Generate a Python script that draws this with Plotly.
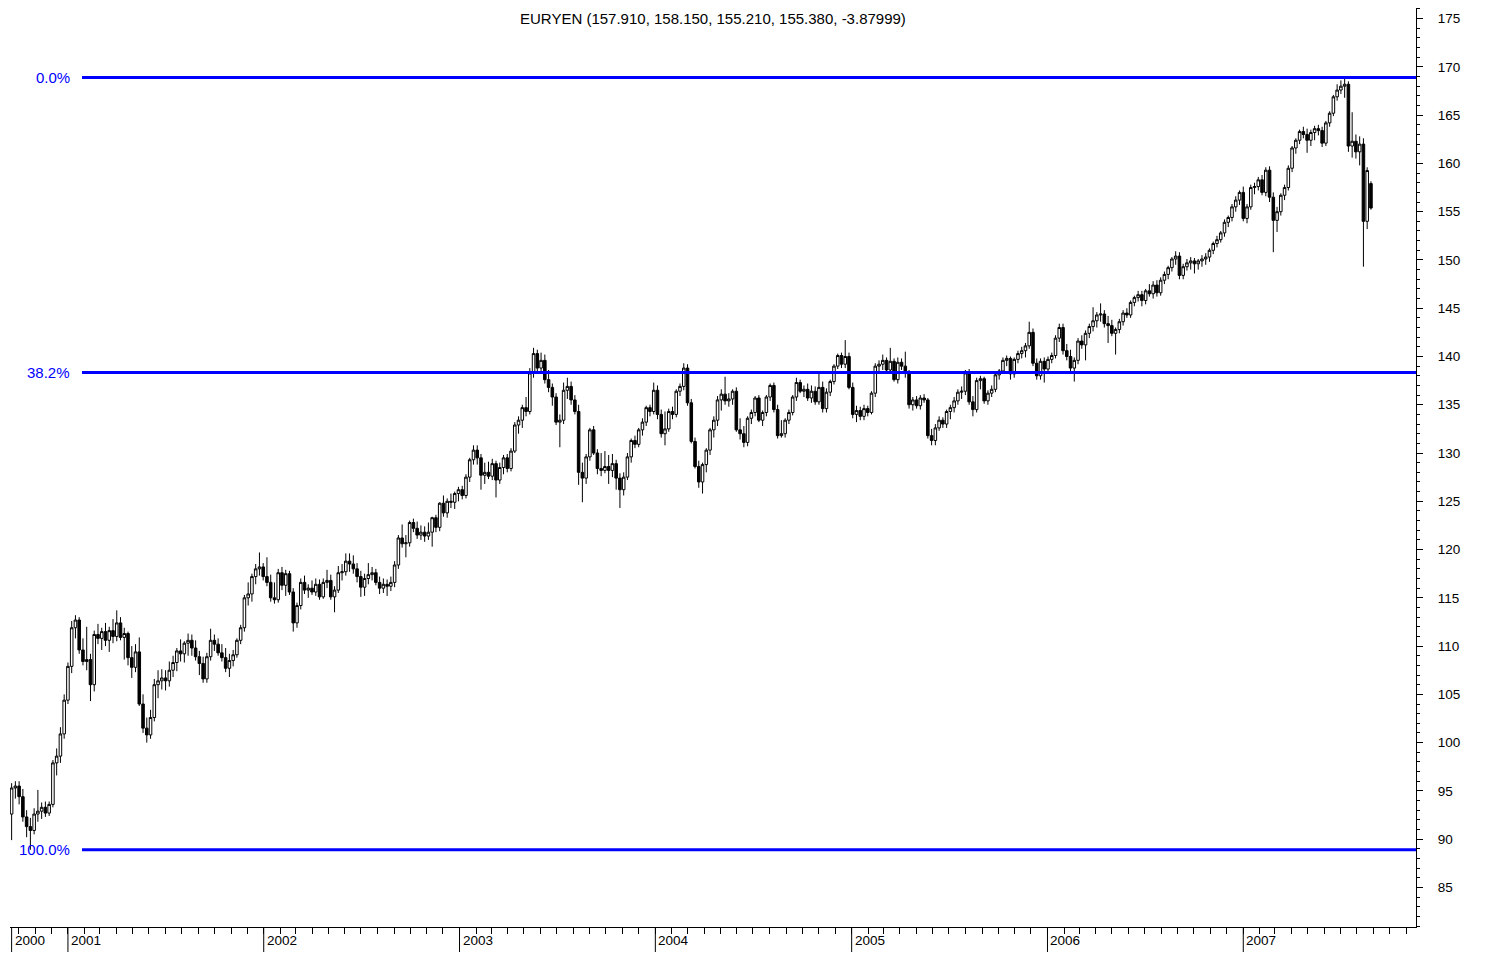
import pandas as pd
import plotly.graph_objects as go

# weekly EURYEN candles, one per Monday starting 2000-09-18
first_week = "2000-09-18"

opens = [
    # 2000
    92.6, 95.3, 95.5, 94.4, 92.3, 91.3, 90.9, 92.6, 92.9, 93.3, 92.7, 93.6, 97.9, 98.6, 100.9,
    # 2001
    104.4, 107.9, 111.9, 112.7, 109.6, 108.4, 108.6, 106.0, 111.2, 110.8, 111.5, 110.6, 111.6,
    111.0, 112.4, 110.9, 111.3, 108.8, 107.8, 109.4, 104.0, 101.5, 100.8, 102.6, 106.0, 106.4,
    106.7, 106.4, 107.5, 108.3, 109.5, 109.2, 110.3, 110.6, 109.8, 108.9, 108.2, 106.6, 108.9,
    110.6, 110.2, 109.3, 108.8, 107.7, 108.5, 109.1, 110.6, 111.9, 115.0, 115.4, 117.2, 118.0,
    # 2002
    118.2, 117.2, 116.6, 115.0, 114.8, 117.6, 116.3, 117.5, 115.6, 112.4, 114.2, 116.6, 115.8,
    116.0, 115.6, 116.4, 115.1, 116.6, 116.8, 115.1, 115.8, 117.6, 117.7, 118.8, 118.5, 118.0,
    117.2, 116.1, 117.0, 117.4, 117.6, 116.6, 116.0, 116.4, 116.2, 116.6, 118.4, 121.2, 120.6,
    120.7, 122.8, 122.2, 121.5, 121.8, 121.4, 121.8, 123.3, 122.3, 124.8, 123.8, 125.0, 124.9,
    # 2003
    125.8, 126.2, 125.6, 127.5, 129.3, 130.3, 129.5, 127.7, 128.0, 127.6, 128.9, 127.2, 128.5,
    129.5, 128.4, 130.2, 132.9, 133.4, 134.7, 134.3, 138.3, 140.3, 138.8, 139.6, 137.6, 136.8,
    135.8, 133.2, 133.4, 136.5, 136.9, 135.5, 134.3, 128.0, 127.4, 129.6, 132.4, 130.0, 128.4,
    128.2, 128.6, 128.2, 128.9, 127.4, 126.2, 127.5, 129.6, 131.3, 130.9, 132.4, 133.2, 134.7,
    # 2004
    134.3, 136.5, 134.0, 132.0, 132.5, 134.3, 134.0, 136.4, 136.9, 138.8, 135.2, 131.2, 128.6,
    127.0, 128.8, 130.3, 132.4, 133.4, 135.5, 136.1, 135.4, 135.6, 136.4, 132.4, 132.0, 131.1,
    133.6, 134.2, 135.7, 133.4, 134.2, 135.8, 137.0, 134.5, 131.8, 132.0, 133.4, 134.2, 135.8,
    137.3, 136.4, 136.6, 135.7, 136.4, 135.3, 136.8, 134.6, 136.3, 137.4, 139.0, 140.1, 139.2,
    # 2005
    140.0, 136.8, 134.0, 134.4, 133.8, 134.6, 134.2, 136.2, 139.0, 139.2, 139.6, 138.6, 139.5,
    137.6, 139.4, 139.0, 138.3, 135.0, 135.5, 134.9, 135.7, 135.5, 131.8, 131.3, 132.6, 133.4,
    133.0, 134.3, 134.7, 135.4, 136.3, 136.4, 138.3, 135.3, 134.5, 137.5, 137.7, 135.4, 136.2,
    136.6, 138.1, 138.5, 139.6, 139.8, 138.2, 139.7, 140.3, 140.6, 141.1, 142.5, 139.3, 138.0,
    # 2006
    139.5, 138.7, 139.7, 140.1, 141.9, 143.0, 140.6, 140.0, 138.8, 139.6, 141.6, 141.2, 142.4,
    143.1, 143.7, 144.3, 144.4, 143.4, 143.2, 142.4, 142.8, 143.6, 144.5, 144.3, 145.6, 146.1,
    146.4, 145.8, 146.8, 146.5, 147.4, 146.6, 147.9, 148.5, 149.2, 150.1, 150.4, 148.4, 149.3,
    149.7, 149.9, 149.6, 149.9, 150.1, 150.3, 151.0, 151.7, 152.1, 152.8, 153.9, 154.4, 155.5,
    # 2007
    156.2, 157.0, 154.3, 155.5, 157.5, 157.6, 158.3, 157.0, 159.3, 156.5, 154.1, 155.0, 156.7,
    157.5, 159.5, 161.6, 162.4, 163.3, 163.0, 162.4, 163.2, 163.6, 163.4, 162.1, 164.2, 165.2,
    166.9, 167.6, 168.0, 168.2, 161.8, 162.3, 161.2, 162.0, 154.0, 157.91,
]

highs = [
    # 2000
    95.8, 96.0, 96.0, 95.2, 93.0, 92.2, 93.2, 95.1, 93.8, 93.9, 93.9, 98.2, 99.4, 101.6, 105.0,
    # 2001
    108.3, 112.6, 113.2, 113.0, 110.8, 112.0, 109.2, 111.6, 112.3, 111.9, 112.4, 112.0, 112.8,
    113.7, 113.0, 111.9, 111.5, 110.0, 110.2, 110.9, 105.0, 102.6, 103.4, 106.6, 107.5, 107.6,
    107.5, 108.4, 109.0, 109.8, 110.7, 110.5, 111.3, 111.2, 110.6, 109.5, 108.9, 109.3, 111.8,
    111.2, 110.8, 110.2, 109.8, 109.2, 109.6, 110.8, 112.2, 115.3, 116.6, 117.5, 118.5, 119.7,
    # 2002
    118.6, 119.2, 117.4, 116.6, 118.0, 118.2, 117.9, 117.8, 116.0, 114.5, 117.0, 117.3, 116.4,
    116.8, 117.0, 116.9, 117.0, 117.9, 117.4, 116.2, 118.3, 118.5, 119.6, 119.6, 119.4, 118.6,
    117.8, 117.5, 118.6, 118.2, 118.0, 117.2, 117.0, 116.9, 117.2, 118.8, 121.5, 122.6, 121.5,
    123.0, 123.2, 122.9, 122.5, 122.4, 122.8, 123.4, 123.6, 124.9, 125.6, 125.3, 125.8, 126.0,
    # 2003
    126.5, 126.6, 127.8, 129.5, 130.8, 130.8, 129.9, 129.0, 129.1, 129.4, 129.2, 129.0, 129.8,
    129.9, 130.5, 133.2, 133.8, 135.0, 135.8, 138.8, 140.9, 140.7, 140.4, 140.2, 138.6, 137.2,
    136.2, 134.0, 137.3, 137.8, 137.4, 136.0, 135.0, 129.0, 129.9, 132.6, 132.8, 130.4, 130.0,
    130.2, 129.8, 129.9, 129.3, 127.9, 128.0, 130.0, 131.5, 131.8, 132.6, 133.6, 134.9, 135.0,
    # 2004
    137.3, 137.0, 134.5, 134.3, 134.6, 134.8, 136.6, 137.2, 139.3, 139.2, 135.6, 131.6, 129.2,
    129.0, 130.5, 132.6, 133.8, 135.9, 136.6, 137.9, 136.2, 136.6, 136.8, 133.6, 132.8, 133.8,
    134.5, 135.9, 136.0, 134.4, 136.0, 137.2, 137.3, 135.0, 133.4, 133.6, 134.5, 136.0, 137.8,
    137.6, 137.0, 137.2, 137.0, 136.9, 138.3, 137.4, 136.7, 137.6, 139.2, 140.3, 140.4, 141.7,
    # 2005
    140.4, 137.3, 134.9, 134.8, 135.0, 134.9, 136.4, 139.3, 139.6, 140.2, 139.9, 140.9, 139.8,
    139.9, 139.8, 140.5, 138.6, 135.8, 135.9, 136.0, 136.1, 135.7, 132.5, 133.0, 133.8, 133.7,
    134.5, 135.0, 135.8, 136.6, 136.9, 138.6, 138.7, 135.9, 137.8, 138.0, 137.9, 136.5, 137.0,
    138.3, 138.7, 139.9, 140.1, 140.0, 139.9, 140.6, 141.0, 141.4, 143.6, 142.9, 139.8, 139.8,
    # 2006
    139.9, 140.0, 140.4, 142.2, 143.4, 143.4, 141.3, 140.7, 139.9, 141.9, 142.2, 142.7, 143.4,
    145.1, 144.6, 145.5, 144.8, 144.2, 143.8, 143.0, 143.9, 144.8, 145.0, 145.8, 146.3, 146.8,
    146.8, 147.0, 147.5, 147.8, 147.9, 148.2, 148.8, 149.4, 150.3, 150.9, 150.8, 149.6, 150.1,
    150.3, 150.2, 150.1, 150.5, 150.7, 151.2, 151.9, 152.5, 153.0, 154.2, 154.6, 155.8, 156.6,
    # 2007
    157.2, 157.6, 155.8, 157.8, 158.0, 158.6, 158.8, 159.6, 159.7, 157.0, 155.5, 156.9, 157.8,
    159.8, 161.8, 162.6, 163.5, 163.8, 163.6, 163.5, 163.9, 164.0, 163.8, 164.4, 165.4, 167.1,
    168.2, 168.6, 168.9, 168.5, 165.3, 163.0, 162.8, 162.6, 159.6, 158.15,
]

lows = [
    # 2000
    89.9, 94.2, 93.6, 91.8, 90.2, 88.9, 90.5, 91.8, 92.1, 92.3, 92.4, 93.3, 96.6, 97.9, 100.4,
    # 2001
    104.0, 107.2, 110.8, 109.2, 108.0, 107.5, 104.3, 105.3, 110.2, 109.6, 110.0, 109.4, 110.3,
    110.5, 110.6, 108.6, 108.0, 106.7, 107.3, 103.8, 101.0, 100.0, 100.4, 102.2, 104.6, 105.5,
    105.4, 105.8, 106.8, 107.4, 108.4, 108.3, 109.0, 109.0, 108.5, 107.0, 106.2, 106.2, 108.5,
    109.5, 109.0, 108.4, 107.3, 106.8, 107.9, 108.8, 110.2, 111.5, 114.2, 114.6, 116.4, 117.3,
    # 2002
    116.8, 116.2, 114.6, 114.4, 114.5, 115.8, 115.2, 115.3, 111.5, 111.9, 113.8, 115.4, 115.0,
    115.3, 115.2, 114.8, 114.9, 116.0, 114.8, 113.5, 115.5, 116.8, 117.3, 117.7, 117.5, 116.6,
    115.1, 115.2, 116.4, 116.8, 116.3, 115.4, 115.5, 115.2, 115.7, 116.1, 118.0, 120.2, 119.2,
    120.3, 121.8, 121.1, 121.0, 120.8, 121.0, 120.3, 121.8, 121.9, 123.4, 123.3, 124.3, 124.2,
    # 2003
    125.0, 125.2, 125.3, 127.0, 128.8, 128.8, 126.2, 126.8, 127.3, 127.2, 125.4, 126.8, 127.8,
    128.0, 128.1, 130.0, 132.0, 132.6, 133.8, 134.0, 137.8, 138.4, 138.2, 137.2, 136.3, 134.9,
    132.9, 130.6, 133.0, 135.6, 135.0, 134.0, 126.7, 124.9, 126.8, 129.2, 129.8, 127.8, 127.6,
    127.9, 126.8, 127.5, 126.2, 124.3, 125.6, 127.2, 129.0, 130.5, 130.6, 131.8, 132.8, 133.8,
    # 2004
    134.0, 133.5, 131.6, 130.8, 132.2, 133.5, 133.7, 135.9, 136.5, 134.9, 131.0, 128.4, 126.4,
    125.8, 128.0, 129.8, 131.6, 132.8, 134.4, 135.0, 134.8, 135.0, 132.2, 131.4, 130.6, 130.7,
    133.0, 133.8, 133.2, 132.8, 133.8, 135.4, 134.2, 131.5, 131.6, 131.6, 133.0, 133.9, 135.4,
    136.2, 135.8, 135.4, 135.2, 135.0, 135.0, 134.2, 134.2, 135.9, 137.1, 138.7, 138.8, 138.8,
    # 2005
    136.6, 133.6, 133.2, 133.4, 133.4, 133.8, 134.0, 135.8, 138.4, 138.6, 138.4, 138.2, 137.4,
    137.2, 138.6, 137.8, 134.6, 134.4, 134.6, 134.5, 135.2, 131.5, 130.8, 130.8, 132.3, 132.6,
    132.6, 133.5, 134.2, 135.0, 135.6, 136.0, 135.0, 133.8, 134.2, 136.6, 135.1, 135.0, 135.8,
    136.3, 137.6, 138.2, 139.0, 137.6, 137.8, 139.3, 139.8, 139.9, 140.8, 139.0, 137.6, 137.6,
    # 2006
    137.3, 138.3, 139.3, 139.8, 141.5, 140.2, 139.6, 138.2, 137.4, 139.2, 140.8, 139.6, 141.9,
    142.6, 143.0, 143.6, 143.0, 141.4, 142.1, 140.2, 142.4, 143.2, 144.0, 144.0, 145.2, 145.7,
    145.2, 145.4, 146.2, 146.0, 146.2, 146.3, 147.5, 148.0, 148.8, 149.5, 148.0, 148.0, 148.9,
    149.0, 148.6, 149.0, 149.3, 149.5, 149.8, 150.6, 151.3, 151.8, 152.4, 153.4, 154.0, 155.0,
    # 2007
    155.7, 154.0, 153.8, 155.2, 156.8, 157.2, 156.7, 156.6, 156.0, 150.8, 152.9, 154.6, 156.2,
    157.2, 159.1, 161.0, 162.0, 162.6, 161.1, 161.8, 162.4, 162.9, 161.7, 161.8, 163.8, 164.9,
    166.5, 167.2, 166.8, 161.2, 160.6, 160.5, 159.8, 149.3, 153.2, 155.21,
]

closes = [
    # 2000
    95.3, 95.5, 94.4, 92.3, 91.3, 90.9, 92.6, 92.9, 93.3, 92.7, 93.6, 97.9, 98.6, 100.9, 104.4,
    # 2001
    107.9, 111.9, 112.7, 109.6, 108.4, 108.6, 106.0, 111.2, 110.8, 111.5, 110.6, 111.6, 111.0,
    112.4, 110.9, 111.3, 108.8, 107.8, 109.4, 104.0, 101.5, 100.8, 102.6, 106.0, 106.4, 106.7,
    106.4, 107.5, 108.3, 109.5, 109.2, 110.3, 110.6, 109.8, 108.9, 108.2, 106.6, 108.9, 110.6,
    110.2, 109.3, 108.8, 107.7, 108.5, 109.1, 110.6, 111.9, 115.0, 115.4, 117.2, 118.0, 118.2,
    # 2002
    117.2, 116.6, 115.0, 114.8, 117.6, 116.3, 117.5, 115.6, 112.4, 114.2, 116.6, 115.8, 116.0,
    115.6, 116.4, 115.1, 116.6, 116.8, 115.1, 115.8, 117.6, 117.7, 118.8, 118.5, 118.0, 117.2,
    116.1, 117.0, 117.4, 117.6, 116.6, 116.0, 116.4, 116.2, 116.6, 118.4, 121.2, 120.6, 120.7,
    122.8, 122.2, 121.5, 121.8, 121.4, 121.8, 123.3, 122.3, 124.8, 123.8, 125.0, 124.9, 125.8,
    # 2003
    126.2, 125.6, 127.5, 129.3, 130.3, 129.5, 127.7, 128.0, 127.6, 128.9, 127.2, 128.5, 129.5,
    128.4, 130.2, 132.9, 133.4, 134.7, 134.3, 138.3, 140.3, 138.8, 139.6, 137.6, 136.8, 135.8,
    133.2, 133.4, 136.5, 136.9, 135.5, 134.3, 128.0, 127.4, 129.6, 132.4, 130.0, 128.4, 128.2,
    128.6, 128.2, 128.9, 127.4, 126.2, 127.5, 129.6, 131.3, 130.9, 132.4, 133.2, 134.7, 134.3,
    # 2004
    136.5, 134.0, 132.0, 132.5, 134.3, 134.0, 136.4, 136.9, 138.8, 135.2, 131.2, 128.6, 127.0,
    128.8, 130.3, 132.4, 133.4, 135.5, 136.1, 135.4, 135.6, 136.4, 132.4, 132.0, 131.1, 133.6,
    134.2, 135.7, 133.4, 134.2, 135.8, 137.0, 134.5, 131.8, 132.0, 133.4, 134.2, 135.8, 137.3,
    136.4, 136.6, 135.7, 136.4, 135.3, 136.8, 134.6, 136.3, 137.4, 139.0, 140.1, 139.2, 140.0,
    # 2005
    136.8, 134.0, 134.4, 133.8, 134.6, 134.2, 136.2, 139.0, 139.2, 139.6, 138.6, 139.5, 137.6,
    139.4, 139.0, 138.3, 135.0, 135.5, 134.9, 135.7, 135.5, 131.8, 131.3, 132.6, 133.4, 133.0,
    134.3, 134.7, 135.4, 136.3, 136.4, 138.3, 135.3, 134.5, 137.5, 137.7, 135.4, 136.2, 136.6,
    138.1, 138.5, 139.6, 139.8, 138.2, 139.7, 140.3, 140.6, 141.1, 142.5, 139.3, 138.0, 139.5,
    # 2006
    138.7, 139.7, 140.1, 141.9, 143.0, 140.6, 140.0, 138.8, 139.6, 141.6, 141.2, 142.4, 143.1,
    143.7, 144.3, 144.4, 143.4, 143.2, 142.4, 142.8, 143.6, 144.5, 144.3, 145.6, 146.1, 146.4,
    145.8, 146.8, 146.5, 147.4, 146.6, 147.9, 148.5, 149.2, 150.1, 150.4, 148.4, 149.3, 149.7,
    149.9, 149.6, 149.9, 150.1, 150.3, 151.0, 151.7, 152.1, 152.8, 153.9, 154.4, 155.5, 156.2,
    # 2007
    157.0, 154.3, 155.5, 157.5, 157.6, 158.3, 157.0, 159.3, 156.5, 154.1, 155.0, 156.7, 157.5,
    159.5, 161.6, 162.4, 163.3, 163.0, 162.4, 163.2, 163.6, 163.4, 162.1, 164.2, 165.2, 166.9,
    167.6, 168.0, 168.2, 161.8, 162.3, 161.2, 162.0, 154.0, 159.26, 155.38,
]

# retracement levels between the lowest low and the highest high
fib_ratios = [0.0, 0.382, 1.0]
fib_labels = ["0.0%", "38.2%", "100.0%"]

# year markers on the time axis (first one sits at the first candle)
year_dates = ["2000-09-18", "2001-01-01", "2002-01-01", "2003-01-01",
              "2004-01-01", "2005-01-01", "2006-01-01", "2007-01-01"]
year_labels = ["2000", "2001", "2002", "2003", "2004", "2005", "2006", "2007"]

title_text = "EURYEN (157.910, 158.150, 155.210, 155.380, -3.87999)"

FONT = "Arial, Liberation Sans, Helvetica, sans-serif"
FIB_BLUE = "#0000ff"

dates = pd.date_range(first_week, periods=len(closes), freq="7D")

fig = go.Figure()

fig.add_trace(go.Candlestick(
    x=dates, open=opens, high=highs, low=lows, close=closes,
    increasing=dict(line=dict(color="black", width=1), fillcolor="white"),
    decreasing=dict(line=dict(color="black", width=1), fillcolor="black"),
    whiskerwidth=0,
    hoverinfo="skip",
    showlegend=False,
))

# --- fibonacci lines ---
top = max(highs)
bottom = min(lows)
for ratio, label in zip(fib_ratios, fib_labels):
    level = top - ratio * (top - bottom)
    fig.add_shape(type="line", xref="paper", yref="y",
                  x0=0.0512, x1=1, y0=level, y1=level,
                  line=dict(color=FIB_BLUE, width=3))
    fig.add_annotation(xref="paper", yref="y", x=0.0441, y=level,
                       text=label, showarrow=False,
                       xanchor="right", yanchor="middle",
                       font=dict(family=FONT, size=15, color=FIB_BLUE))

# --- year markers below the axis ---
for d, lab in zip(year_dates, year_labels):
    fig.add_shape(type="line", xref="x", yref="paper",
                  x0=d, x1=d, ysizemode="pixel", yanchor=0, y0=0, y1=-25,
                  line=dict(color="black", width=1))
    fig.add_annotation(xref="x", yref="paper", x=d, y=0, text=lab,
                       showarrow=False, xanchor="left", yanchor="top",
                       xshift=1, yshift=-4,
                       font=dict(family=FONT, size=13.5, color="black"))

fig.add_annotation(xref="paper", yref="paper", x=0.5, y=1, text=title_text,
                   showarrow=False, xanchor="center", yanchor="top", yshift=0,
                   font=dict(family=FONT, size=15, color="black"))

# the page body adds 8px on the top/left, so the figure is sized to fit the window
fig.update_layout(
    width=1483, height=945,
    margin=dict(l=2, r=75, t=0, b=26),
    paper_bgcolor="white",
    plot_bgcolor="white",
    boxgap=0.03,
    hovermode=False,
    showlegend=False,
)

fig.update_xaxes(
    type="date",
    range=["2000-09-15", "2007-11-19"],
    rangeslider=dict(visible=False),
    showgrid=False, zeroline=False,
    showline=True, linecolor="black", linewidth=1,
    ticks="outside", ticklen=6, tickcolor="black",
    tick0="2000-01-01", dtick="M1",
    showticklabels=False,
)

fig.update_yaxes(
    side="right",
    range=[80.9, 176.1],
    showgrid=False, zeroline=False,
    showline=True, linecolor="black", linewidth=1,
    ticks="outside", ticklen=6, tickcolor="black",
    tick0=0, dtick=5,
    minor=dict(ticks="outside", ticklen=3, dtick=1, tickcolor="black"),
    ticklabelstandoff=12,
    tickfont=dict(family=FONT, size=13.5, color="black"),
)

fig.write_html("out.html")
